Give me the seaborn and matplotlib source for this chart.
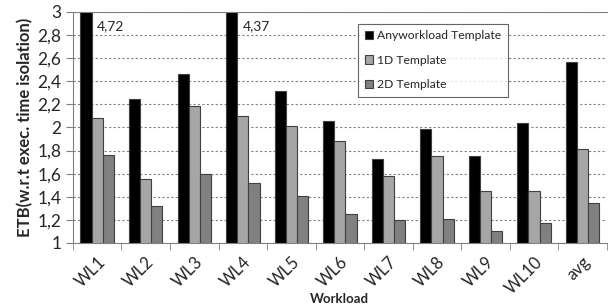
import numpy as np
import pandas as pd
import seaborn as sns
import matplotlib.pyplot as plt

workloads = ["WL1", "WL2", "WL3", "WL4", "WL5", "WL6", "WL7", "WL8", "WL9", "WL10", "avg"]
anyworkload = [4.72, 2.25, 2.46, 4.37, 2.32, 2.06, 1.73, 1.99, 1.75, 2.04, 2.57]
template_1d = [2.08, 1.55, 2.19, 2.10, 2.01, 1.88, 1.58, 1.75, 1.45, 1.45, 1.81]
template_2d = [1.76, 1.32, 1.60, 1.52, 1.41, 1.25, 1.20, 1.21, 1.10, 1.17, 1.35]
series_names = ["Anyworkload Template", "1D Template", "2D Template"]
yticks = [1, 1.2, 1.4, 1.6, 1.8, 2, 2.2, 2.4, 2.6, 2.8, 3]

df = pd.DataFrame({
    "Workload": workloads * 3,
    "value": anyworkload + template_1d + template_2d,
    "series": [s for s in series_names for _ in workloads],
})

sns.set_style("white")
plt.rcParams["font.family"] = ["Lato", "DejaVu Sans"]

fig = plt.figure(figsize=(6.08, 3.07), dpi=100)
ax = fig.add_axes([0.12, 0.2085, 0.878, 0.7525])

colors = ["#000000", "#a6a6a6", "#808080"]
sns.barplot(data=df, x="Workload", y="value", hue="series", palette=colors,
            width=0.69, ax=ax, edgecolor="#404040", linewidth=0.8, saturation=1)

ax.set_ylim(1, 3)
ax.set_xlim(-0.5, len(workloads) - 0.5)
ax.set_yticks(yticks)
ax.set_yticklabels([("%g" % t).replace(".", ",") for t in yticks], fontsize=12.5)
ax.yaxis.grid(True, linestyle=(0, (2, 2)), color="#808080", linewidth=0.8)
ax.set_axisbelow(True)

ax.set_xticks(range(len(workloads)))
ax.set_xticklabels(workloads, rotation=45, ha="right", rotation_mode="anchor", fontsize=12)
ax.tick_params(axis="x", length=0, pad=8)
ax.set_xticks(np.arange(-0.5, len(workloads), 1), minor=True)
ax.tick_params(axis="x", which="minor", length=5, color="#808080", direction="out", bottom=True)
ax.tick_params(axis="y", length=5, color="#808080", left=True)

for side in ["left", "bottom", "top"]:
    ax.spines[side].set_color("#808080")
ax.spines["right"].set_visible(False)

# values clipped above the axis
for i, v in enumerate(anyworkload):
    if v > 3:
        ax.text(i + 0.0, 2.88, ("%.2f" % v).replace(".", ","), ha="left", va="center", fontsize=10)

ax.set_ylabel("ETB(w.r.t exec. time isolation)", fontsize=12, fontweight="bold", labelpad=3)
ax.set_xlabel("Workload", fontsize=9.5, fontweight="bold", labelpad=-3)

leg = ax.legend(loc="upper left", bbox_to_anchor=(0.523, 0.975), fontsize=8.7,
                frameon=True, fancybox=False, edgecolor="#404040",
                handlelength=0.7, handleheight=0.7, handletextpad=0.3,
                labelspacing=1.1, borderpad=0.55)
leg.get_frame().set_linewidth(0.8)

fig.savefig("out.png", dpi=100)
